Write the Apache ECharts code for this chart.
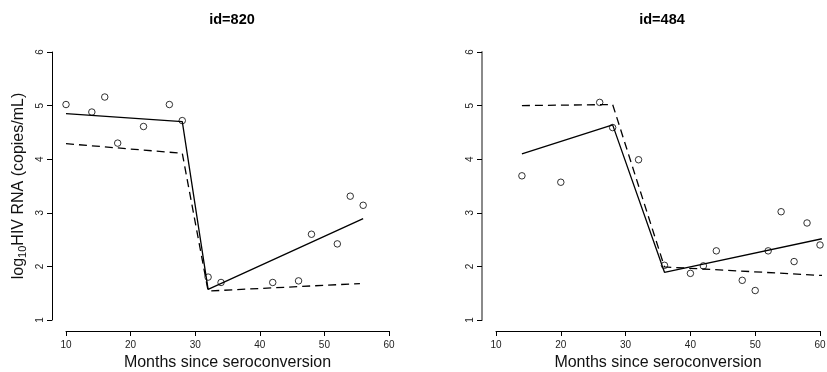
<!DOCTYPE html>
<html>
<head>
<meta charset="utf-8">
<script src="https://cdn.jsdelivr.net/npm/echarts@6/dist/echarts.min.js"></script>
<style>
  html, body { margin: 0; padding: 0; background: #fff; }
  #chart { width: 827px; height: 372px; }
</style>
</head>
<body>
<div id="chart"></div>
<script>
// Panel titles
const panelTitles = ['id=820', 'id=484'];

// Axis ticks
const xTicks = [10, 20, 30, 40, 50, 60];
const yTicks = [1, 2, 3, 4, 5, 6];

// id=820: observed viral load
const obsMonths820 = [10, 14, 16, 18, 22, 26, 28, 32, 34, 42, 46, 48, 52, 54, 56];
const obsLoad820   = [5.02, 4.88, 5.16, 4.30, 4.61, 5.02, 4.72, 1.80, 1.70, 1.70, 1.73, 2.60, 2.42, 3.31, 3.14];
// id=820: subject-specific fit (solid) and population fit (dashed)
const fitMonths820 = [10, 28, 32, 56];
const fitLoad820   = [4.85, 4.70, 1.57, 2.89];
const popMonths820 = [10, 28, 32, 55.5];
const popLoad820   = [4.29, 4.11, 1.54, 1.68];

// id=484: observed viral load
const obsMonths484 = [14, 20, 26, 28, 32, 36, 40, 42, 44, 48, 50, 52, 54, 56, 58, 60];
const obsLoad484   = [3.69, 3.57, 5.06, 4.59, 3.99, 2.02, 1.87, 2.01, 2.29, 1.74, 1.55, 2.29, 3.02, 2.09, 2.81, 2.40];
// id=484: subject-specific fit (solid) and population fit (dashed)
const fitMonths484 = [14, 28, 36, 62];
const fitLoad484   = [4.10, 4.64, 1.89, 2.56];
const popMonths484 = [14, 28, 36, 62];
const popLoad484   = [5.00, 5.02, 1.99, 1.82];

const pairs = (xs, ys) => xs.map((x, i) => [x, ys[i]]);
const FONT = 'Liberation Sans, Arial, sans-serif';

function xAxisFor(gridIndex) {
  return {
    gridIndex, type: 'value', min: 10, max: 60, interval: 10, offset: 11,
    axisLine: { show: true, onZero: false, lineStyle: { color: '#000', width: 1 } },
    axisTick: { show: true, length: 5, lineStyle: { color: '#000' } },
    axisLabel: { fontFamily: FONT, fontSize: 10, color: '#222', margin: 9,
                 formatter: v => xTicks.includes(v) ? String(v) : '' },
    splitLine: { show: false },
    name: 'Months since seroconversion', nameLocation: 'middle', nameGap: 21,
    nameTextStyle: { fontFamily: FONT, fontSize: 16, color: '#111' }
  };
}

function yAxisFor(gridIndex, lineColor, lineWidth, withName) {
  const ax = {
    gridIndex, type: 'value', min: 1, max: 6, interval: 1, offset: 14,
    axisLine: { show: true, onZero: false, lineStyle: { color: lineColor, width: lineWidth } },
    axisTick: { show: true, length: 5, lineStyle: { color: '#000' } },
    axisLabel: { fontFamily: FONT, fontSize: 10, color: '#222', rotate: 90, margin: 7,
                 formatter: v => yTicks.includes(v) ? String(v) : '' },
    splitLine: { show: false }
  };
  if (withName) {
    ax.name = '{b|log}{s|10}{b|HIV RNA (copies/mL)}';
    ax.nameLocation = 'middle';
    ax.nameRotate = 90;
    ax.nameGap = 24;
    ax.nameTextStyle = {
      fontFamily: FONT, color: '#111',
      rich: {
        b: { fontFamily: FONT, fontSize: 16, color: '#111' },
        s: { fontFamily: FONT, fontSize: 11, color: '#111', padding: [8, 0, 0, 0] }
      }
    };
  }
  return ax;
}

function panelSeries(idx, obsX, obsY, fitX, fitY, popX, popY) {
  return [
    {
      type: 'line', xAxisIndex: idx, yAxisIndex: idx, data: pairs(popX, popY),
      showSymbol: false, clip: false, silent: true,
      lineStyle: { color: '#000', width: 1.3, type: [8, 5] }
    },
    {
      type: 'line', xAxisIndex: idx, yAxisIndex: idx, data: pairs(fitX, fitY),
      showSymbol: false, clip: false, silent: true,
      lineStyle: { color: '#000', width: 1.3 }
    },
    {
      type: 'scatter', xAxisIndex: idx, yAxisIndex: idx, data: pairs(obsX, obsY),
      symbol: 'circle', symbolSize: 6.5, clip: false, silent: true,
      itemStyle: { color: 'rgba(0,0,0,0)', borderColor: '#000', borderWidth: 1 }
    }
  ];
}

const chart = echarts.init(document.getElementById('chart'), null, { renderer: 'canvas' });
chart.setOption({
  animation: false,
  backgroundColor: '#fff',
  title: [
    { text: panelTitles[0], left: 227, top: 7, textAlign: 'center',
      textStyle: { fontFamily: FONT, fontSize: 14.5, fontWeight: 'bold', color: '#000' } },
    { text: panelTitles[1], left: 657, top: 7, textAlign: 'center',
      textStyle: { fontFamily: FONT, fontSize: 14.5, fontWeight: 'bold', color: '#000' } }
  ],
  grid: [
    { left: 66, top: 52, width: 323, height: 268, outerBoundsMode: 'none', containLabel: false },
    { left: 496, top: 52, width: 324, height: 268, outerBoundsMode: 'none', containLabel: false }
  ],
  xAxis: [xAxisFor(0), xAxisFor(1)],
  yAxis: [yAxisFor(0, '#000', 1, true), yAxisFor(1, '#8a8a8a', 2, false)],
  series: [
    ...panelSeries(0, obsMonths820, obsLoad820, fitMonths820, fitLoad820, popMonths820, popLoad820),
    ...panelSeries(1, obsMonths484, obsLoad484, fitMonths484, fitLoad484, popMonths484, popLoad484)
  ]
});
</script>
</body>
</html>
